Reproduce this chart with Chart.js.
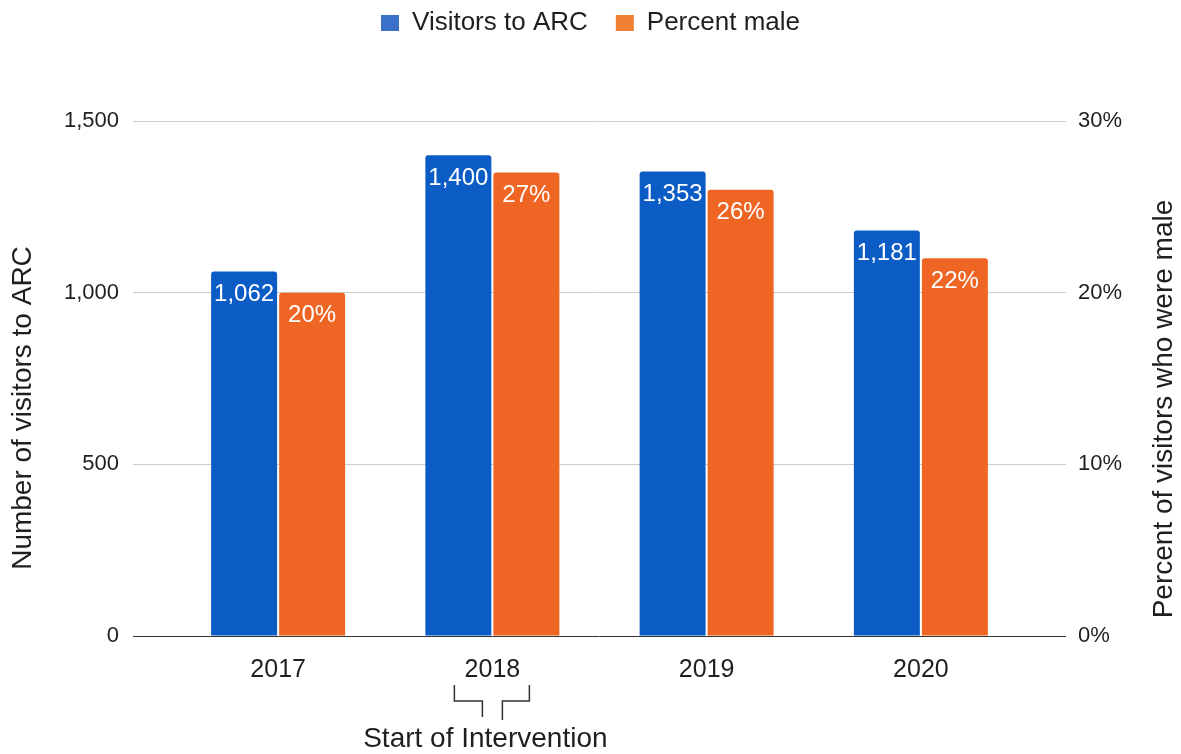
<!DOCTYPE html>
<html>
<head>
<meta charset="utf-8">
<script src="https://cdn.jsdelivr.net/npm/chart.js@4"></script>
<style>
html, body { margin: 0; padding: 0; background: #fff; }
</style>
</head>
<body>
<canvas id="visitorsChart" width="1181" height="754"></canvas>
<script>
// Data
const years = ['2017', '2018', '2019', '2020'];
const visitors = [1062, 1400, 1353, 1181];
const percentMale = [0.20, 0.27, 0.26, 0.22];
const visitorTicks = [0, 500, 1000, 1500];
const percentTicks = [0, 0.1, 0.2, 0.3];
const annotationYear = '2018';
const annotationText = 'Start of Intervention';

const FONT = '"Liberation Sans", Arial, Helvetica, sans-serif';
const TEXT = '#1f1f1f';
const BLUE = '#0b5cc5';
const ORANGE = '#ee6524';
const legendColors = ['#3b70c8', '#f07f33'];

Chart.defaults.font.family = FONT;
Chart.defaults.color = TEXT;

const fmtCount = v => v.toLocaleString('en-US');
const fmtPct = v => Math.round(v * 100) + '%';

// white value labels just inside the top of each bar
const barLabels = {
    id: 'barLabels',
    afterDatasetsDraw(chart) {
        const ctx = chart.ctx;
        ctx.save();
        ctx.fillStyle = '#fff';
        ctx.font = '24px ' + FONT;
        ctx.textAlign = 'center';
        ctx.textBaseline = 'middle';
        chart.data.datasets.forEach((ds, i) => {
            chart.getDatasetMeta(i).data.forEach((bar, j) => {
                const text = i === 0 ? fmtCount(ds.data[j]) : fmtPct(ds.data[j]);
                ctx.fillText(text, bar.x, bar.y + 23);
            });
        });
        ctx.restore();
    }
};

function verticalText(ctx, text, x, y) {
    ctx.save();
    ctx.fillStyle = TEXT;
    ctx.font = '28px ' + FONT;
    ctx.textAlign = 'center';
    ctx.textBaseline = 'middle';
    ctx.translate(x, y);
    ctx.rotate(-Math.PI / 2);
    ctx.fillText(text, 0, 0);
    ctx.restore();
}

// axis titles (both read bottom to top) and the intervention note
const extras = {
    id: 'extras',
    afterDraw(chart) {
        const ctx = chart.ctx;
        verticalText(ctx, 'Number of visitors to ARC', 23, 408);
        verticalText(ctx, 'Percent of visitors who were male', 1164, 409);

        const cx = chart.scales.x.getPixelForValue(years.indexOf(annotationYear));
        ctx.save();
        ctx.strokeStyle = '#333';
        ctx.lineWidth = 1.5;
        ctx.beginPath();
        ctx.moveTo(cx - 38, 685); ctx.lineTo(cx - 38, 701); ctx.lineTo(cx - 10, 701); ctx.lineTo(cx - 10, 717);
        ctx.moveTo(cx + 37, 685); ctx.lineTo(cx + 37, 701); ctx.lineTo(cx + 10, 701); ctx.lineTo(cx + 10, 720);
        ctx.stroke();
        ctx.fillStyle = TEXT;
        ctx.font = '28px ' + FONT;
        ctx.textAlign = 'center';
        ctx.textBaseline = 'alphabetic';
        ctx.fillText(annotationText, cx - 7, 747);
        ctx.restore();
    }
};

// fixed legend height so the plot starts where the reference does
const legendSpace = {
    id: 'legendSpace',
    beforeInit(chart) {
        const fit = chart.legend.fit;
        chart.legend.fit = function () {
            fit.call(this);
            this.height = 139;
        };
    }
};

const gridColor = ctx => (ctx.tick && ctx.tick.value === 0 ? '#333333' : '#cccccc');

new Chart(document.getElementById('visitorsChart'), {
    type: 'bar',
    data: {
        labels: years,
        datasets: [{
            label: 'Visitors to ARC',
            data: visitors,
            yAxisID: 'y',
            backgroundColor: BLUE,
            borderRadius: { topLeft: 3, topRight: 3, bottomLeft: 0, bottomRight: 0 },
            borderSkipped: false,
            categoryPercentage: 0.635,
            barPercentage: 0.97
        }, {
            label: 'Percent male',
            data: percentMale,
            yAxisID: 'y1',
            backgroundColor: ORANGE,
            borderRadius: { topLeft: 3, topRight: 3, bottomLeft: 0, bottomRight: 0 },
            borderSkipped: false,
            categoryPercentage: 0.635,
            barPercentage: 0.97
        }]
    },
    options: {
        responsive: false,
        animation: false,
        layout: { padding: { top: -18, left: 0, right: 0, bottom: 0 } },
        plugins: {
            tooltip: { enabled: false },
            legend: {
                position: 'top',
                labels: {
                    font: { size: 26 },
                    color: TEXT,
                    boxWidth: 18,
                    boxHeight: 16,
                    padding: 28,
                    generateLabels(chart) {
                        return chart.data.datasets.map((ds, i) => ({
                            text: ds.label,
                            fillStyle: legendColors[i],
                            strokeStyle: legendColors[i],
                            lineWidth: 0,
                            fontColor: TEXT,
                            hidden: false,
                            datasetIndex: i
                        }));
                    }
                }
            }
        },
        scales: {
            x: {
                grid: { display: false },
                border: { display: false },
                ticks: { font: { size: 25 }, color: TEXT, padding: 11 },
                afterFit(s) { s.height = 118; }
            },
            y: {
                position: 'left',
                min: visitorTicks[0],
                max: visitorTicks[visitorTicks.length - 1],
                afterBuildTicks(s) { s.ticks = visitorTicks.map(v => ({ value: v })); },
                ticks: { callback: v => fmtCount(v), font: { size: 22 }, color: TEXT, padding: 14 },
                grid: { color: gridColor, tickLength: 38, lineWidth: 1 },
                border: { display: false },
                afterFit(s) { s.width = 171; }
            },
            y1: {
                position: 'right',
                min: percentTicks[0],
                max: percentTicks[percentTicks.length - 1],
                afterBuildTicks(s) { s.ticks = percentTicks.map(v => ({ value: v })); },
                ticks: { callback: v => fmtPct(v), font: { size: 22 }, color: TEXT, padding: 12 },
                grid: { color: gridColor, tickLength: 38, drawOnChartArea: false, lineWidth: 1 },
                border: { display: false },
                afterFit(s) { s.width = 153; }
            }
        }
    },
    plugins: [legendSpace, barLabels, extras]
});
</script>
</body>
</html>
